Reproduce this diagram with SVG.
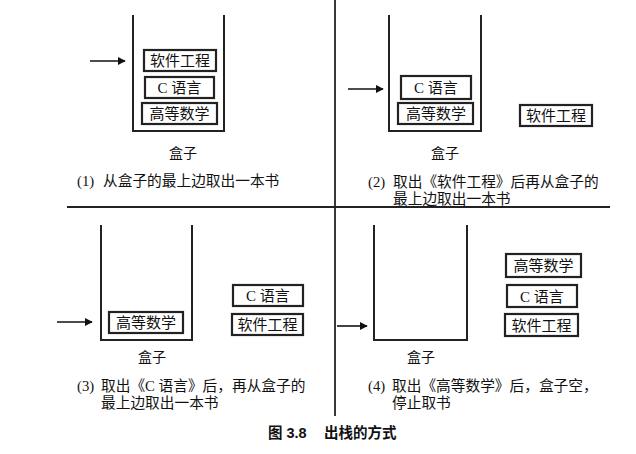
<svg xmlns="http://www.w3.org/2000/svg" width="636" height="454" viewBox="0 0 636 454">
<style>
.t{font-family:"Liberation Serif","Noto Sans CJK SC",serif;font-size:15px;fill:#111}
.s{font-size:14.7px}
.c{text-anchor:middle}
.box{fill:none;stroke:#222;stroke-width:2}
.book{fill:#fff;stroke:#222;stroke-width:2.2}
.div{stroke:#222;stroke-width:1.8}
.arr{stroke:#111;stroke-width:1.6;fill:none}
.cap{font-family:"Liberation Sans","Noto Sans CJK SC",sans-serif;font-size:14.5px;font-weight:bold;fill:#111}
</style>
<defs>
<marker id="ah" viewBox="0 0 10 10" refX="9" refY="5" markerWidth="8" markerHeight="8" markerUnits="userSpaceOnUse" orient="auto">
<path d="M0,0 L10,5 L0,10 z" fill="#111"/>
</marker>
</defs>
<rect width="636" height="454" fill="#fff"/>
<g id="dividers">
<line class="div" x1="335" y1="0" x2="335" y2="416"/>
<line class="div" x1="67" y1="207" x2="610" y2="207"/>
</g>
<g id="connectors">
<line class="arr" x1="90" y1="61" x2="125" y2="61" marker-end="url(#ah)"/>
<line class="arr" x1="348" y1="89" x2="383" y2="89" marker-end="url(#ah)"/>
<line class="arr" x1="57" y1="322" x2="92" y2="322" marker-end="url(#ah)"/>
<line class="arr" x1="337" y1="326" x2="367" y2="326" marker-end="url(#ah)"/>
</g>
<g id="panel1">
<path class="box" d="M133,15 V131 H224 V15"/>
<g id="p1-book1"><rect class="book" x="144" y="50" width="72" height="21"/><text class="t c" x="180" y="66">软件工程</text></g>
<g id="p1-book2"><rect class="book" x="145" y="77" width="69" height="21"/><text class="t c" x="179.5" y="93">C 语言</text></g>
<g id="p1-book3"><rect class="book" x="142" y="103" width="75" height="21"/><text class="t c" x="179.5" y="119">高等数学</text></g>
<text class="t c" x="183" y="158" style="font-size:14px">盒子</text>
<text class="t s" x="77" y="186">(1)</text>
<text class="t s" x="103" y="186">从盒子的最上边取出一本书</text>
</g>
<g id="panel2">
<path class="box" d="M389,15 V131 H481 V15"/>
<g id="p2-book2"><rect class="book" x="401" y="76" width="70" height="23"/><text class="t c" x="436" y="93">C 语言</text></g>
<g id="p2-book3"><rect class="book" x="398" y="103" width="75" height="21"/><text class="t c" x="436" y="119">高等数学</text></g>
<g id="p2-book1"><rect class="book" x="520" y="105" width="72" height="21"/><text class="t c" x="556" y="121">软件工程</text></g>
<text class="t c" x="445" y="158" style="font-size:14px">盒子</text>
<text class="t s" x="368" y="187">(2)</text>
<text class="t s" x="393" y="187">取出《软件工程》后再从盒子的</text>
<text class="t s" x="393" y="204">最上边取出一本书</text>
</g>
<g id="panel3">
<path class="box" d="M101,225 V340 H192 V225"/>
<g id="p3-book3"><rect class="book" x="109" y="312" width="74" height="21"/><text class="t c" x="146" y="328">高等数学</text></g>
<g id="p3-book2"><rect class="book" x="233" y="285" width="70" height="21"/><text class="t c" x="268" y="301">C 语言</text></g>
<g id="p3-book1"><rect class="book" x="232" y="314" width="71" height="21"/><text class="t c" x="267.5" y="330">软件工程</text></g>
<text class="t c" x="152" y="362" style="font-size:14px">盒子</text>
<text class="t s" x="77" y="391">(3)</text>
<text class="t s" x="101" y="391">取出《C 语言》后，再从盒子的</text>
<text class="t s" x="101" y="408">最上边取出一本书</text>
</g>
<g id="panel4">
<path class="box" d="M374,225 V340 H467 V225"/>
<g id="p4-book3"><rect class="book" x="506" y="254" width="75" height="23"/><text class="t c" x="543.5" y="271">高等数学</text></g>
<g id="p4-book2"><rect class="book" x="507" y="285" width="70" height="22"/><text class="t c" x="542" y="302">C 语言</text></g>
<g id="p4-book1"><rect class="book" x="505" y="314" width="73" height="22"/><text class="t c" x="541.5" y="331">软件工程</text></g>
<text class="t c" x="421" y="362" style="font-size:14px">盒子</text>
<text class="t s" x="368" y="391">(4)</text>
<text class="t s" x="392" y="391">取出《高等数学》后，盒子空，</text>
<text class="t s" x="392" y="408">停止取书</text>
</g>
<g id="caption">
<text class="cap" x="268" y="438">图 3.8</text>
<text class="cap" x="324" y="438">出栈的方式</text>
</g>
</svg>
